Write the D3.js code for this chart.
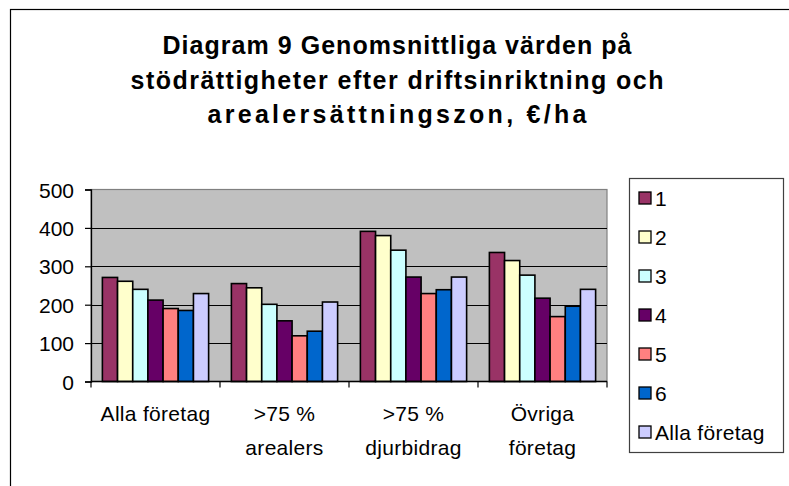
<!DOCTYPE html>
<html><head><meta charset="utf-8">
<script src="https://cdn.jsdelivr.net/npm/d3@7"></script>
<style>html,body{margin:0;padding:0;background:#fff;overflow:hidden}</style>
</head><body>
<svg id="chart" width="789" height="486"></svg>
<script>
const titleLines = ["Diagram 9 Genomsnittliga värden på", "stödrättigheter efter driftsinriktning och", "arealersättningszon, €/ha"];
const categories = ["Alla företag", ">75 % arealers", ">75 % djurbidrag", "Övriga företag"];
const categoryLines = [["Alla företag"], [">75 %", "arealers"], [">75 %", "djurbidrag"], ["Övriga", "företag"]];
const seriesNames = ["1", "2", "3", "4", "5", "6", "Alla företag"];
const seriesColors = ["#993366", "#FFFFCC", "#CCFFFF", "#660066", "#FF8080", "#0066CC", "#CCCCFF"];
const s1 = [271, 255, 391, 336];
const s2 = [261, 244, 380, 315];
const s3 = [240, 201, 342, 277];
const s4 = [212, 158, 272, 217];
const s5 = [190, 119, 229, 169];
const s6 = [185, 131, 239, 196];
const s7 = [229, 207, 272, 240];
const yTicks = [0, 100, 200, 300, 400, 500];

const seriesValues = [s1, s2, s3, s4, s5, s6, s7];
const svg = d3.select("#chart");
const font = "'Liberation Sans', Arial, sans-serif";

// outer chart border (only top & left visible)
svg.append("rect").attr("x", 10.5).attr("y", 9.5).attr("width", 900).attr("height", 600)
  .attr("fill", "none").attr("stroke", "#000").attr("stroke-width", 1.2);

// title
const titleW = [469, 533, 379];
svg.append("g").selectAll("text").data(titleLines).join("text")
  .attr("x", 397).attr("y", (d, i) => 54 + i * 34.5)
  .attr("text-anchor", "middle").attr("font-family", font).attr("font-weight", "bold")
  .attr("font-size", 25).attr("fill", "#000")
  .attr("textLength", (d, i) => titleW[i]).attr("lengthAdjust", "spacing")
  .text(d => d);

const pLeft = 91, pRight = 607, pTop = 189.5, pBottom = 381.5;
const x0 = d3.scaleBand().domain(categories).range([pLeft, pRight]).paddingInner(0).paddingOuter(0);
const x1 = d3.scaleBand().domain(seriesNames).range([0, x0.bandwidth()]).paddingInner(0).paddingOuter(0.75);
const y = d3.scaleLinear().domain([0, 500]).range([pBottom, pTop]);

// plot background
svg.append("rect").attr("x", pLeft).attr("y", pTop).attr("width", pRight - pLeft).attr("height", pBottom - pTop)
  .attr("fill", "#C0C0C0").attr("stroke", "#808080").attr("stroke-width", 1.2);

// gridlines
svg.append("g").selectAll("line").data(yTicks.filter(t => t > 0 && t < 500)).join("line")
  .attr("x1", pLeft).attr("x2", pRight).attr("y1", d => Math.round(y(d)) + 0.5).attr("y2", d => Math.round(y(d)) + 0.5)
  .attr("stroke", "#000").attr("stroke-width", 1);

// bars
const data = [];
categories.forEach((c, ci) => seriesNames.forEach((s, si) => data.push({c, s, si, v: seriesValues[si][ci]})));
svg.append("g").selectAll("rect").data(data).join("rect")
  .attr("x", d => x0(d.c) + x1(d.s)).attr("width", x1.bandwidth())
  .attr("y", d => y(d.v)).attr("height", d => y(0) - y(d.v))
  .attr("fill", d => seriesColors[d.si]).attr("stroke", "#000").attr("stroke-width", 1.6);

// y axis
const yAxis = d3.axisLeft(y).tickValues(yTicks).tickSize(6).tickPadding(11);
const ya = svg.append("g").attr("transform", `translate(${pLeft},0)`).call(yAxis);
ya.select(".domain").attr("stroke", "#000").attr("stroke-width", 1.3);
ya.selectAll(".tick line").attr("stroke", "#000").attr("stroke-width", 1.2);
ya.selectAll(".tick text").attr("font-family", font).attr("font-size", 21).attr("fill", "#000").attr("dy", "0.36em");

// x axis
const xa = svg.append("g").attr("transform", `translate(0,${pBottom})`);
xa.append("line").attr("x1", pLeft).attr("x2", pRight).attr("y1", 0).attr("y2", 0).attr("stroke", "#000").attr("stroke-width", 1.3);
const bounds = categories.map(c => x0(c)).concat([x0(categories[categories.length - 1]) + x0.bandwidth()]);
xa.selectAll("line.t").data(bounds).join("line").attr("class", "t")
  .attr("x1", d => d).attr("x2", d => d).attr("y1", 0).attr("y2", 6).attr("stroke", "#000").attr("stroke-width", 1.2);
const lab = xa.selectAll("text").data(categories).join("text")
  .attr("text-anchor", "middle").attr("font-family", font).attr("font-size", 21).attr("fill", "#000")
  .attr("letter-spacing", 0.3);
lab.each(function(d, i) {
  const t = d3.select(this);
  categoryLines[i].forEach((ln, li) => {
    t.append("tspan").attr("x", x0(d) + x0.bandwidth() / 2).attr("y", 39 + li * 34).text(ln);
  });
});

// legend
const lg = svg.append("g");
lg.append("rect").attr("x", 629.5).attr("y", 178.5).attr("width", 154).attr("height", 274)
  .attr("fill", "#fff").attr("stroke", "#404040").attr("stroke-width", 1.2);
const items = lg.selectAll("g.item").data(seriesNames).join("g").attr("class", "item")
  .attr("transform", (d, i) => `translate(639,${198 + i * 39})`);
items.append("rect").attr("x", 0).attr("y", -6).attr("width", 12).attr("height", 12)
  .attr("fill", (d, i) => seriesColors[i]).attr("stroke", "#000").attr("stroke-width", 1.3);
items.append("text").attr("x", 16).attr("y", 0).attr("dy", "0.36em")
  .attr("font-family", font).attr("font-size", 21).attr("fill", "#000").attr("letter-spacing", 0.3)
  .text(d => d);
</script>
</body></html>
